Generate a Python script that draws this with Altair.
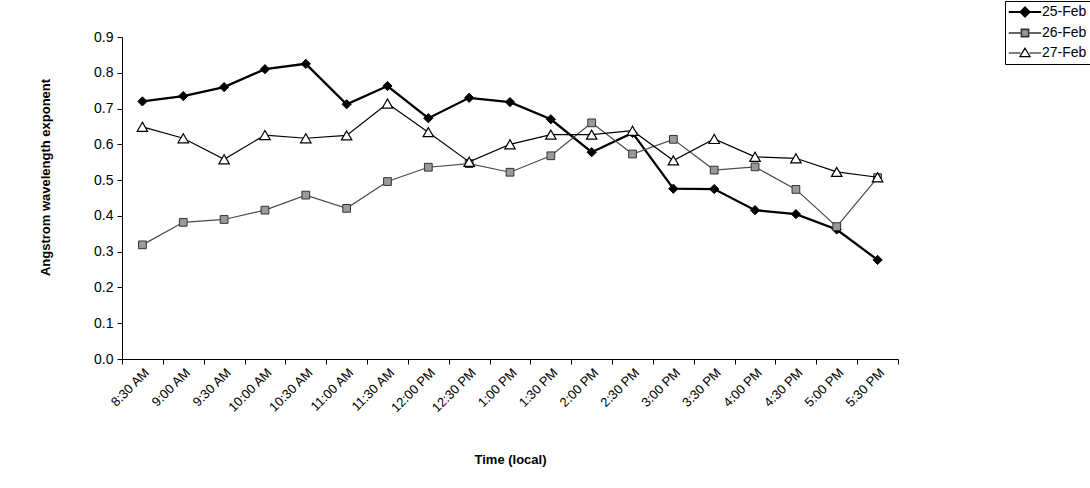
import altair as alt
import pandas as pd

times = ["8:30 AM", "9:00 AM", "9:30 AM", "10:00 AM", "10:30 AM", "11:00 AM",
         "11:30 AM", "12:00 PM", "12:30 PM", "1:00 PM", "1:30 PM", "2:00 PM",
         "2:30 PM", "3:00 PM", "3:30 PM", "4:00 PM", "4:30 PM", "5:00 PM", "5:30 PM"]

feb25 = [0.72, 0.735, 0.76, 0.81, 0.825, 0.712, 0.763, 0.673, 0.73, 0.718,
         0.67, 0.578, 0.632, 0.476, 0.475, 0.416, 0.405, 0.362, 0.277]
feb26 = [0.319, 0.382, 0.39, 0.416, 0.458, 0.421, 0.496, 0.536, 0.546, 0.522,
         0.568, 0.66, 0.573, 0.614, 0.528, 0.537, 0.474, 0.37, 0.507]
feb27 = [0.649, 0.617, 0.558, 0.626, 0.617, 0.625, 0.714, 0.634, 0.551, 0.6,
         0.627, 0.627, 0.638, 0.555, 0.615, 0.565, 0.561, 0.523, 0.508]

y_ticks = [0.0, 0.1, 0.2, 0.3, 0.4, 0.5, 0.6, 0.7, 0.8, 0.9]

series_names = ["25-Feb", "26-Feb", "27-Feb"]
series_values = [feb25, feb26, feb27]

rows = []
for name, vals in zip(series_names, series_values):
    for t, v in zip(times, vals):
        rows.append({"time": t, "value": v, "series": name})
df = pd.DataFrame(rows)

FONT = "Liberation Sans"

x_enc = alt.X("time:N", sort=times, bandPosition=0.5,
              scale=alt.Scale(type="band", domain=times, paddingInner=0, paddingOuter=0),
              axis=alt.Axis(title="Time (local)", labelAngle=-45, tickBand="extent",
                            labelFontSize=13, labelPadding=2, titleFontSize=13,
                            titleFontWeight="bold", titleY=100, titleBaseline="middle"))
y_enc = alt.Y("value:Q",
              scale=alt.Scale(domain=[0, 0.9], nice=False, zero=True),
              axis=alt.Axis(title="Angstrom wavelength exponent", values=y_ticks,
                            format=".1f", labelFontSize=14, labelPadding=4, titleFontSize=13,
                            titleFontWeight="bold", titleX=-77, titleY=140, titleBaseline="middle",
                            grid=False, labelOverlap=False))

base = alt.Chart(df).encode(x=x_enc, y=y_enc)

line_styles = {"25-Feb": ("black", 2.3), "26-Feb": ("#4a4a4a", 1.2), "27-Feb": ("black", 1.2)}
pt_styles = {"25-Feb": ("diamond", 85, "black", "black", 1),
             "26-Feb": ("square", 60, "#9a9a9a", "#333333", 1),
             "27-Feb": ("triangle-up", 110, "white", "black", 1.2)}

layers = []
for name in series_names:
    sub = base.transform_filter(alt.datum.series == name)
    c, w = line_styles[name]
    layers.append(sub.mark_line(color=c, strokeWidth=w))
    shp, sz, fl, st, sw = pt_styles[name]
    layers.append(sub.mark_point(shape=shp, size=sz, fill=fl, stroke=st,
                                 strokeWidth=sw, opacity=1, filled=False))

# legend-only layer (no marks drawn; legend built from explicit scale domains)
leg_line = "M-2.7,0H-0.75M0.75,0H2.7"
leg_shapes = [
    leg_line + "M0,-0.75L0.75,0L0,0.75L-0.75,0Z",
    leg_line + "M-0.6,-0.6H0.6V0.6H-0.6Z",
    leg_line + "M0,-0.8L0.85,0.6H-0.85Z",
]
legend_layer = alt.Chart(df).transform_filter("false").mark_point(opacity=1, size=144).encode(
    shape=alt.Shape("series:N", scale=alt.Scale(domain=series_names, range=leg_shapes),
                    legend=alt.Legend(title=None, orient="none", legendX=883, legendY=-36,
                                      strokeColor="black", padding=4, labelFontSize=14,
                                      symbolOffset=9, labelOffset=10, rowPadding=5,
                                      symbolSize=144)),
    fill=alt.Fill("series:N", scale=alt.Scale(domain=series_names, range=["black", "#9a9a9a", "white"]),
                  legend=alt.Legend(title=None)),
    stroke=alt.Stroke("series:N", scale=alt.Scale(domain=series_names, range=["black", "#333333", "black"]),
                      legend=alt.Legend(title=None)),
    strokeWidth=alt.StrokeWidth("series:N", scale=alt.Scale(domain=series_names, range=[2, 1.2, 1.2]),
                                legend=alt.Legend(title=None)),
)

chart = alt.layer(*layers, legend_layer).properties(
    width=776, height=322,
    autosize=alt.AutoSizeParams(type="none"),
    padding={"left": 122, "top": 37, "right": 192, "bottom": 129},
    background="white",
).configure_view(stroke=None).configure_axis(
    labelFont=FONT, titleFont=FONT, labelColor="black", titleColor="black",
    domainColor="black", tickColor="black", tickSize=5, domainWidth=1,
).configure_legend(labelFont=FONT, labelColor="black")

chart.save("out.html", embed_options={"renderer": "svg", "actions": False})
